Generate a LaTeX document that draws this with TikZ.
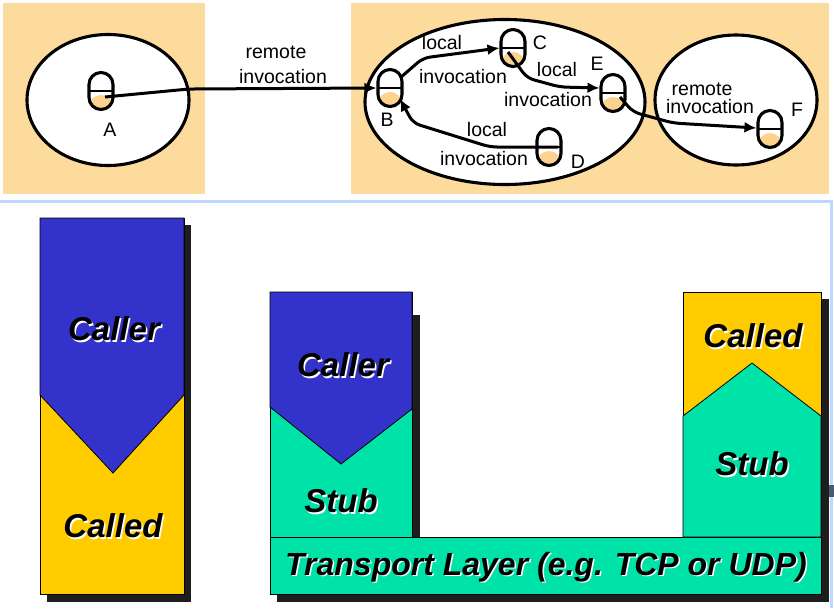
\documentclass[tikz,border=0pt]{standalone}
\usepackage{fontspec}
\setmainfont{Liberation Sans}
\usetikzlibrary{arrows.meta,calc,shapes.geometric}
\definecolor{bgor}{HTML}{FDDB9D}
\definecolor{capor}{HTML}{FBD28E}
\definecolor{cblue}{HTML}{3333CC}
\definecolor{cyel}{HTML}{FFCC00}
\definecolor{cgreen}{HTML}{00E3A8}
\definecolor{shad}{HTML}{1E1E1E}
\definecolor{framec}{HTML}{C0D8FF}
\definecolor{markc}{HTML}{4A5A70}
\tikzset{
  capsule/.style={draw, line width=3.1pt, rectangle, rounded corners=12pt,
    minimum width=24pt, minimum height=37pt, inner sep=0pt, fill=white,
    path picture={
      \fill[capor] ($(path picture bounding box.west)+(0,4)$) rectangle (path picture bounding box.south east);
      \draw[line width=2.4pt] (path picture bounding box.west) -- (path picture bounding box.east);}},
  proc/.style={draw, ellipse, line width=3.1pt, fill=white, inner sep=0pt},
  arr/.style={line width=3pt, -{Latex[length=12pt,width=11pt]}, rounded corners=7pt},
  lbl/.style={font=\fontsize{19.5}{20}\selectfont, inner sep=0pt},
  bigt/.style={font=\fontsize{33}{33}\selectfont\bfseries\itshape, inner sep=0pt},
  bigw/.style={bigt, text=white},
  colbox/.style={draw=black, line width=0.8pt},
  shadowbox/.style={fill=shad}
}
\begin{document}
\begin{tikzpicture}[x=1pt,y=-1pt]
\useasboundingbox (0,0) rectangle (834,608);
% backgrounds
\fill[bgor] (3,3) rectangle (205,194);
\fill[bgor] (351,3) rectangle (829,194);
% frame of lower slide
\draw[framec, line width=3pt] (0,201) -- (831,201) -- (831,608);
\fill[markc] (829,485) rectangle (834,497);
% processes
\node[proc, minimum width=162pt, minimum height=131pt] (pA) at (108,100) {};
\node[proc, minimum width=280pt, minimum height=165pt] (pB) at (505,102) {};
\node[proc, minimum width=162pt, minimum height=130pt] (pF) at (736,100) {};
% objects
\node[capsule] (A) at (101,91) {};
\node[capsule] (B) at (390,88) {};
\node[capsule] (C) at (513,48) {};
\node[capsule] (E) at (613,93) {};
\node[capsule] (D) at (549,147) {};
\node[capsule] (F) at (770,129) {};
% arrows
\draw[arr] ($(A.center)+(4,6)$) -- (189,89) -- (B.west);
\draw[arr] ($(B.center)+(10,-10)$) -- (423,58) -- (C.west);
\draw[arr] ($(C.center)+(-5,4)$) -- (527,78) -- (560,87) -- ($(E.west)+(0,-5)$);
\draw[arr] ($(D.center)+(9,0)$) -- (490,147) -- (413,123) -- ($(B.center)+(10,11)$);
\draw[arr] ($(E.center)+(7,4)$) -- (633,112) -- (673,123) -- ($(F.west)+(0,-1)$);
% labels
\node[lbl] (lA) at (110,130) {A};
\node[lbl] (lB) at (387,120) {B};
\node[lbl] (lC) at (540,43) {C};
\node[lbl] (lD) at (578,162) {D};
\node[lbl] (lE) at (597,64) {E};
\node[lbl] (lF) at (797,110) {F};
\node[lbl] (r1a) at (276,52) {remote};
\node[lbl] (r1b) at (283,77) {invocation};
\node[lbl] (l1a) at (442,43) {local};
\node[lbl] (l1b) at (463,77) {invocation};
\node[lbl] (l2a) at (557,70) {local};
\node[lbl] (l2b) at (548,100) {invocation};
\node[lbl] (l3a) at (487,130) {local};
\node[lbl] (l3b) at (484,159) {invocation};
\node[lbl] (r2a) at (702,89) {remote};
\node[lbl] (r2b) at (710,107) {invocation};
% ---------- lower part ----------
% left column
\fill[shadowbox] (47,225) rectangle (191,602);
\filldraw[colbox, fill=cyel] (40,218) rectangle (184,594);
\filldraw[colbox, fill=cblue] (40,218) -- (184,218) -- (184,395) -- (113,473) -- (40,395) -- cycle;
% middle column
\fill[shadowbox] (277,315) rectangle (420,545);
\filldraw[colbox, fill=cgreen] (270,292) rectangle (412,537);
\filldraw[colbox, fill=cblue] (270,292) -- (412,292) -- (412,409) -- (341,464) -- (270,407) -- cycle;
% right column
\fill[shadowbox] (690,299) rectangle (829,545);
\filldraw[colbox, fill=cyel] (683,292) rectangle (821,537);
\filldraw[colbox, fill=cgreen] (683,416) -- (752,363) -- (821,416) -- (821,537) -- (683,537) -- cycle;
% transport
\fill[shadowbox] (277,545) rectangle (829,602);
\filldraw[colbox, fill=cgreen] (270,537) rectangle (821,594);
% texts
\node[bigw] at (115.5,330.5) {Caller};
\node[bigt] (t1) at (114,329) {Caller};
\node[bigw] at (114.5,527.5) {Called};
\node[bigt] (t2) at (113,526) {Called};
\node[bigw] at (344.5,366.5) {Caller};
\node[bigt] (t3) at (343,365) {Caller};
\node[bigw] at (342.5,502.5) {Stub};
\node[bigt] (t4) at (341,501) {Stub};
\node[bigw] at (754.5,337.5) {Called};
\node[bigt] (t5) at (753,336) {Called};
\node[bigw] at (753.5,465.5) {Stub};
\node[bigt] (t6) at (752,464) {Stub};
\node[bigw, font=\fontsize{32}{32}\selectfont\bfseries\itshape] at (547.5,568.5) {Transport Layer (e.g. TCP or UDP)};
\node[bigt, font=\fontsize{32}{32}\selectfont\bfseries\itshape] (t7) at (546,567) {Transport Layer (e.g. TCP or UDP)};
\end{tikzpicture}
\end{document}
